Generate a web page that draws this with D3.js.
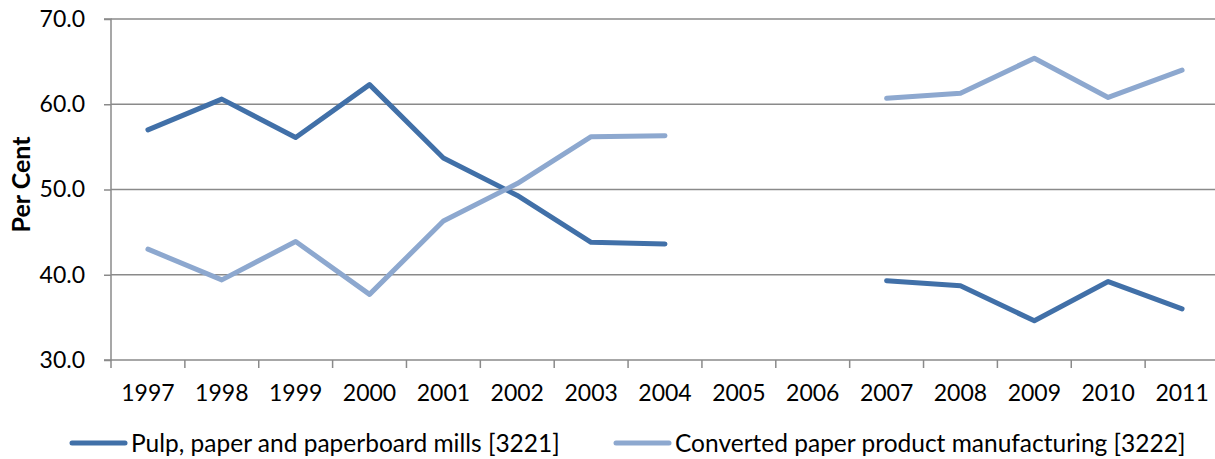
<!DOCTYPE html>
<html>
<head>
<meta charset="utf-8">
<script src="https://cdn.jsdelivr.net/npm/d3@7"></script>
<style>
  body { margin: 0; background: #fff; }
  svg { display: block; font-family: Lato, "Open Sans", sans-serif; }
</style>
</head>
<body>
<div id="chart"></div>
<script>
// data
const years = ["1997","1998","1999","2000","2001","2002","2003","2004","2005","2006","2007","2008","2009","2010","2011"];
const pulpMills = [57.0, 60.6, 56.1, 62.3, 53.7, 49.3, 43.8, 43.6, null, null, 39.3, 38.7, 34.6, 39.2, 36.0];
const convertedPaper = [43.0, 39.4, 43.9, 37.7, 46.3, 50.7, 56.2, 56.3, null, null, 60.7, 61.3, 65.4, 60.8, 64.0];
const yTicks = [30, 40, 50, 60, 70];
const seriesNames = ["Pulp, paper and paperboard mills [3221]", "Converted paper product manufacturing [3222]"];

const WIDTH = 1215;
const HEIGHT = 459;
const margin = {top: 19, right: -4, bottom: 99, left: 111};
const gridColor = "#8a8a8a";
const colors = ["#4170a8", "#8da8cf"];

const svg = d3.select("#chart")
  .append("svg")
  .attr("width", WIDTH)
  .attr("height", HEIGHT);

const x = d3.scaleBand()
  .domain(years)
  .range([margin.left, WIDTH - margin.right])
  .padding(0);

const y = d3.scaleLinear()
  .domain([30, 70])
  .range([HEIGHT - margin.bottom, margin.top]);

// gridlines
svg.append("g")
  .selectAll("line")
  .data(yTicks.slice(1))
  .join("line")
  .attr("x1", margin.left)
  .attr("x2", WIDTH - margin.right)
  .attr("y1", d => y(d))
  .attr("y2", d => y(d))
  .attr("stroke", gridColor)
  .attr("stroke-width", 1.5);

// y axis
const yAxis = svg.append("g")
  .attr("transform", `translate(${margin.left},0)`)
  .call(d3.axisLeft(y).tickValues(yTicks).tickSize(7).tickPadding(19).tickFormat(d3.format(".1f")));

// x axis (ticks between categories)
const xAxis = svg.append("g")
  .attr("transform", `translate(0,${y(30)})`)
  .call(d3.axisBottom(x).tickSize(0).tickPadding(25));

xAxis.append("g")
  .selectAll("line")
  .data(years.concat(["end"]))
  .join("line")
  .attr("x1", (d, i) => i < years.length ? x(d) : x.range()[1])
  .attr("x2", (d, i) => i < years.length ? x(d) : x.range()[1])
  .attr("y1", 0)
  .attr("y2", 8)
  .attr("stroke", gridColor)
  .attr("stroke-width", 1.5);

[yAxis, xAxis].forEach(a => {
  a.selectAll(".domain").attr("stroke", gridColor).attr("stroke-width", 1.5);
  a.selectAll(".tick line").attr("stroke", gridColor).attr("stroke-width", 1.5);
  a.selectAll("text").attr("fill", "#000").style("font-size", "23px").style("font-family", "Lato, sans-serif");
});
yAxis.select(".domain").attr("d", `M-7,${y(70)}H0V${y(30)}H-7`);
xAxis.select(".domain").attr("d", `M${x.range()[0]},0H${x.range()[1]}`);

// y axis title
svg.append("text")
  .attr("transform", `translate(30,${(y(70) + y(30)) / 2 - 5}) rotate(-90)`)
  .attr("text-anchor", "middle")
  .style("font-size", "25px")
  .style("font-weight", "bold")
  .text("Per Cent");

// lines
const line = d3.line()
  .defined(d => d.v != null)
  .x(d => x(d.year) + x.bandwidth() / 2)
  .y(d => y(d.v));

[pulpMills, convertedPaper].forEach((vals, i) => {
  svg.append("path")
    .datum(years.map((year, j) => ({year, v: vals[j]})))
    .attr("fill", "none")
    .attr("stroke", colors[i])
    .attr("stroke-width", 5)
    .attr("stroke-linecap", "round")
    .attr("stroke-linejoin", "round")
    .attr("d", line);
});

// legend
const legendX = [72, 616];
const legend = svg.append("g")
  .selectAll("g")
  .data(seriesNames)
  .join("g")
  .attr("transform", (d, i) => `translate(${legendX[i]},443)`);

legend.append("line")
  .attr("x1", 0)
  .attr("x2", 53)
  .attr("stroke", (d, i) => colors[i])
  .attr("stroke-width", 5)
  .attr("stroke-linecap", "round");

legend.append("text")
  .attr("x", 59)
  .attr("dy", "0.35em")
  .style("font-size", "24.5px")
  .text(d => d);
</script>
</body>
</html>
